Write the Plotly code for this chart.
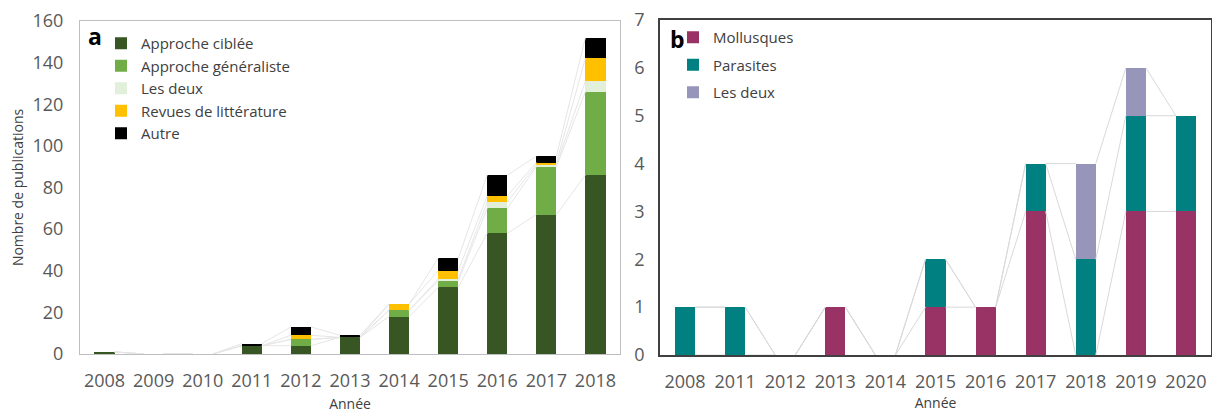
import plotly.graph_objects as go

# ---------------- data: panel a ----------------
years_a = ["2008", "2009", "2010", "2011", "2012", "2013", "2014", "2015", "2016", "2017", "2018"]
ciblee = [1, 0, 0, 4, 4, 8, 18, 32, 58, 67, 86]
generaliste = [0, 0, 0, 0, 3, 0, 3, 3, 12, 23, 40]
deux_a = [0, 0, 0, 0, 0, 0, 0, 1, 3, 1, 5]
revues = [0, 0, 0, 0, 2, 0, 3, 4, 3, 1, 11]
autre = [0, 0, 0, 1, 4, 1, 0, 6, 10, 3, 10]

# ---------------- data: panel b ----------------
years_b = ["2008", "2011", "2012", "2013", "2014", "2015", "2016", "2017", "2018", "2019", "2020"]
mollusques = [0, 0, 0, 1, 0, 1, 1, 3, 0, 3, 3]
parasites = [1, 1, 0, 0, 0, 1, 0, 1, 2, 2, 2]
deux_b = [0, 0, 0, 0, 0, 0, 0, 0, 2, 1, 0]

series_a = [
    ("Approche ciblée", ciblee, "#375623"),
    ("Approche généraliste", generaliste, "#70ad47"),
    ("Les deux", deux_a, "#e2efda"),
    ("Revues de littérature", revues, "#ffc000"),
    ("Autre", autre, "#000000"),
]
series_b = [
    ("Mollusques", mollusques, "#993366"),
    ("Parasites", parasites, "#008080"),
    ("Les deux", deux_b, "#9795b9"),
]

W_A = 0.41
W_B = 0.40
FONT = "Open Sans"
# the page has an 8px body margin; keep the figure inside the visible window
OFF = 8
PW, PH = 1220 - 2 * OFF, 414 - OFF

fig = go.Figure()


def series_lines(series, width, xaxis, yaxis, color):
    n = len(series[0][1])
    cum = [0] * n
    for _, vals, _ in series:
        cum = [c + v for c, v in zip(cum, vals)]
        xs, ys = [], []
        for i in range(n - 1):
            xs += [i + width / 2, i + 1 - width / 2, None]
            ys += [cum[i], cum[i + 1], None]
        fig.add_trace(go.Scatter(x=xs, y=ys, mode="lines", xaxis=xaxis, yaxis=yaxis,
                                 line=dict(color=color, width=1), showlegend=False,
                                 hoverinfo="skip"))


series_lines(series_a, W_A, "x", "y", "#e6e6e6")
series_lines(series_b, W_B, "x2", "y2", "#d9d9d9")

xa = list(range(len(years_a)))
for name, vals, col in series_a:
    fig.add_trace(go.Bar(x=xa, y=vals, name=name, marker=dict(color=col, line=dict(width=0)),
                         width=W_A, xaxis="x", yaxis="y", legend="legend", legendgroup="a" + name))

xb = list(range(len(years_b)))
for name, vals, col in series_b:
    fig.add_trace(go.Bar(x=xb, y=vals, name=name, marker=dict(color=col, line=dict(width=0)),
                         width=W_B, xaxis="x2", yaxis="y2", legend="legend2", legendgroup="b" + name))

tickfont = dict(family=FONT, size=18, color="#595959")
titlefont = dict(family=FONT, size=14, color="#404040")


def px(x):  # page x -> paper fraction
    return (x - OFF) / PW


def py(y):  # page y -> paper fraction
    return 1 - (y - OFF) / PH


fig.update_layout(
    width=PW, height=PH,
    margin=dict(l=0, r=0, t=0, b=0, autoexpand=False),
    paper_bgcolor="white", plot_bgcolor="white",
    barmode="stack",
    font=dict(family=FONT, color="#404040"),
    xaxis=dict(domain=[px(80), px(620)], range=[-0.5, 10.5], tickvals=xa, ticktext=years_a,
               showgrid=False, zeroline=False, showline=True, linecolor="#bfbfbf", linewidth=1,
               mirror=True, ticks="", tickfont=tickfont, ticklabelstandoff=10, automargin=False,
               title=dict(text="Année", font=titlefont, standoff=8), fixedrange=True),
    yaxis=dict(domain=[py(354), py(21)], range=[0, 160], dtick=20, automargin=False,
               showgrid=False, zeroline=False, showline=True, linecolor="#bfbfbf", linewidth=1,
               mirror=True, ticks="", tickfont=tickfont, ticklabelstandoff=12,
               ticklabeloverflow="allow",
               title=dict(text="Nombre de publications", font=titlefont, standoff=6)),
    xaxis2=dict(domain=[px(660), px(1211)], range=[-0.5, 10.5], tickvals=xb, ticktext=years_b,
                anchor="y2", showgrid=False, zeroline=False, showline=True, linecolor="#404040",
                linewidth=1.5, mirror=True, ticks="", tickfont=tickfont, ticklabelstandoff=10,
                layer="below traces", automargin=False, ticklabeloverflow="allow",
                title=dict(text="Année", font=titlefont, standoff=6)),
    yaxis2=dict(domain=[py(355), py(20)], range=[0, 7], dtick=1, anchor="x2", automargin=False,
                showgrid=False, zeroline=False, showline=True, linecolor="#404040", linewidth=1.5,
                mirror=True, ticks="", tickfont=tickfont, ticklabelstandoff=10,
                ticklabeloverflow="allow"),
    legend=dict(x=px(101), y=py(27), xanchor="left", yanchor="top",
                bgcolor="rgba(0,0,0,0)", traceorder="grouped", tracegroupgap=0,
                font=dict(family=FONT, size=15, color="#404040"), itemclick=False),
    legend2=dict(x=px(673), y=py(21), xanchor="left", yanchor="top",
                 bgcolor="rgba(0,0,0,0)", traceorder="grouped", tracegroupgap=5,
                 font=dict(family=FONT, size=15, color="#404040"), itemclick=False),
    annotations=[
        dict(text="<b>a</b>", x=px(95), y=py(36), xref="paper", yref="paper",
             xanchor="center", yanchor="middle", showarrow=False,
             font=dict(family=FONT, size=23, color="#000000")),
        dict(text="<b>b</b>", x=px(677), y=py(39), xref="paper", yref="paper",
             xanchor="center", yanchor="middle", showarrow=False,
             font=dict(family=FONT, size=23, color="#000000")),
    ],
)

fig.write_html("out.html")
